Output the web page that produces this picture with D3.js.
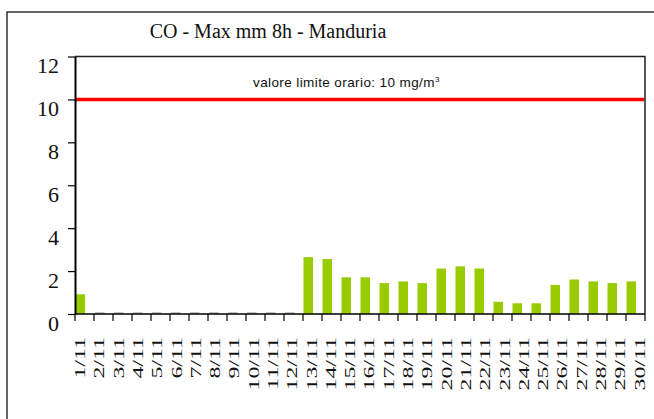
<!DOCTYPE html>
<html><head><meta charset="utf-8">
<script src="https://cdn.jsdelivr.net/npm/d3@7"></script>
<style>body{margin:0;background:#fff}svg{display:block}</style>
</head><body>
<svg id="c" width="654" height="419"></svg>
<script>
const categories = ["1/11","2/11","3/11","4/11","5/11","6/11","7/11","8/11","9/11","10/11","11/11","12/11","13/11","14/11","15/11","16/11","17/11","18/11","19/11","20/11","21/11","22/11","23/11","24/11","25/11","26/11","27/11","28/11","29/11","30/11"];
const values = [0.92,0,0,0,0,0,0,0,0,0,0,0,2.65,2.56,1.71,1.71,1.44,1.52,1.44,2.12,2.22,2.12,0.57,0.50,0.50,1.35,1.61,1.52,1.44,1.52];
const yTicks = [0,2,4,6,8,10,12];
const limitValue = 10;
const title = "CO - Max mm 8h - Manduria";

const svg = d3.select("#c");
const L = 75, R = 645, T = 56.5, B = 314;

// outer frame
svg.append("rect").attr("x",7).attr("y",12).attr("width",700).attr("height",450)
  .attr("fill","none").attr("stroke","#333").attr("stroke-width",1.5);

svg.append("text").attr("x",268).attr("y",38).attr("text-anchor","middle")
  .attr("font-family","Liberation Serif, serif").attr("font-size",20).attr("fill","#111").text(title);

const x = d3.scaleBand().domain(categories).range([L,R]).paddingInner(0).paddingOuter(0);
const xl = d3.scalePoint().domain(categories).range([80,639.5]);
const y = d3.scaleLinear().domain([0,12]).range([B,T]);

// plot box top/right
svg.append("path").attr("d",`M${L},${T}H${R}V${B}`).attr("fill","none").attr("stroke","#222").attr("stroke-width",1.5);

// bars
const bw = x.bandwidth()*0.5;
svg.append("g").selectAll("rect").data(values).join("rect")
  .attr("x",(d,i)=>x(categories[i])+0.5).attr("width",bw)
  .attr("y",d=>y(d)).attr("height",d=>B-y(d)).attr("fill","#99cc00");
svg.append("g").selectAll("line").data(values.map((v,i)=>[v,i]).filter(p=>p[0]===0)).join("line")
  .attr("x1",p=>x(categories[p[1]])+1).attr("x2",p=>x(categories[p[1]])+bw+1)
  .attr("y1",B-1).attr("y2",B-1).attr("stroke","#999").attr("stroke-width",1.2);

// limit line
svg.append("line").attr("x1",L).attr("x2",R-1).attr("y1",y(limitValue)).attr("y2",y(limitValue))
  .attr("stroke","#ff0000").attr("stroke-width",3.5);
const ann = svg.append("text").attr("x",253).attr("y",87)
  .attr("font-family","Liberation Sans, Arial, sans-serif").attr("font-size",13.5).attr("fill","#111")
  .attr("letter-spacing",0.4);
ann.append("tspan").text("valore limite orario: 10 mg/m");
ann.append("tspan").attr("dy",-5).attr("font-size",8).text("3");

// y axis
const ya = svg.append("g").attr("transform",`translate(${L},0)`)
  .call(d3.axisLeft(y).tickValues(yTicks).tickSize(7).tickPadding(9).tickSizeOuter(0));
ya.select(".domain").attr("stroke","#000").attr("stroke-width",2);
ya.selectAll(".tick line").attr("stroke","#000").attr("stroke-width",1.2);
ya.selectAll(".tick text").attr("font-family","Liberation Serif, serif").attr("font-size",22)
  .attr("fill","#111").attr("dy","0.32em").attr("transform","translate(0,9)");

// x axis
const xa = svg.append("g").attr("transform",`translate(0,${B})`);
xa.append("line").attr("x1",L).attr("x2",R).attr("stroke","#000").attr("stroke-width",1.5);
xa.selectAll(".tk").data(categories.concat(["__end"])).join("line").attr("class","tk")
  .attr("x1",(d,i)=>i<categories.length?x(d):R).attr("x2",(d,i)=>i<categories.length?x(d):R)
  .attr("y1",0).attr("y2",7).attr("stroke","#000").attr("stroke-width",1.2);
xa.selectAll(".lb").data(categories).join("text").attr("class","lb")
  .attr("transform",d=>`translate(${xl(d)},23) rotate(-90) scale(1.65,1)`)
  .attr("text-anchor","end").attr("dy","0.35em")
  .attr("font-family","Liberation Serif, serif").attr("font-size",14.5).attr("fill","#111").text(d=>d);
</script>
</body></html>
